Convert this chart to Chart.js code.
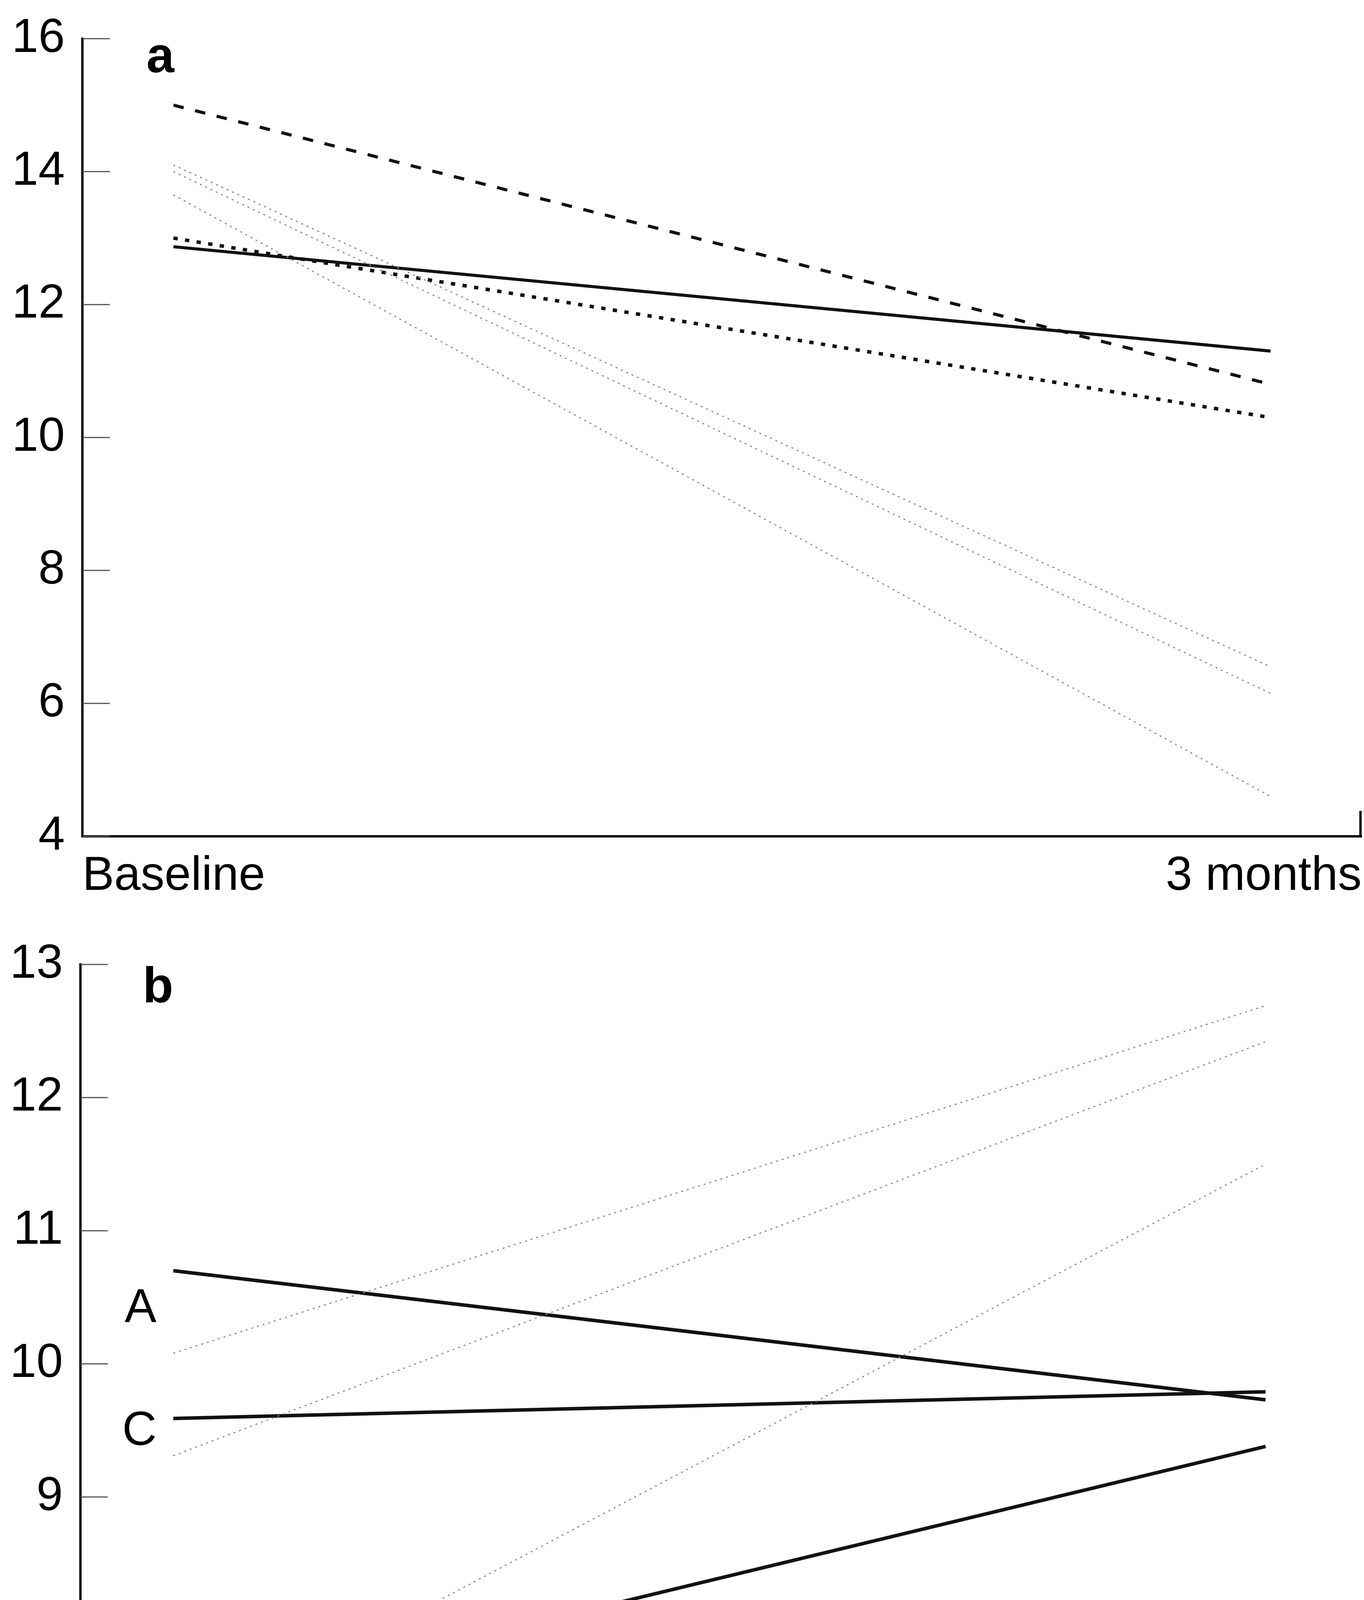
<!DOCTYPE html>
<html><head><meta charset="utf-8">
<script src="https://cdn.jsdelivr.net/npm/chart.js@4.4.1/dist/chart.umd.min.js"></script>
<style>
html,body{margin:0;padding:0;background:#fff;width:3493px;height:4681px;overflow:hidden;}
#wa{position:absolute;left:0;top:0;width:3493px;height:2330px;}
#wb{position:absolute;left:0;top:2330px;width:3493px;height:2351px;}
canvas{display:block;}
</style></head><body>
<div id="wa"><canvas id="ca" width="3493" height="2330"></canvas></div>
<div id="wb"><canvas id="cb" width="3493" height="2351"></canvas></div>
<script>
// ---- data ----
const timeLabels = ['Baseline', '3 months'];
const timePoints = [0, 1];

// Panel a
const aTickMin = 4, aTickMax = 16, aTickStep = 2;
const aDashed = [15.0, 10.8];
const aSolid  = [12.87, 11.3];
const aDotted = [13.0, 10.3];
const aFaint1 = [14.1, 6.55];
const aFaint2 = [14.0, 6.15];
const aFaint3 = [13.65, 4.6];

// Panel b
const bTickMin = 7, bTickMax = 13, bTickStep = 1;
const bLineA  = [10.7, 9.73];
const bLineB  = [7.4, 9.38];
const bLineC  = [9.59, 9.79];
const bFaint1 = [10.08, 12.69];
const bFaint2 = [9.31, 12.42];
const bFaint3 = [7.17, 11.5];
const bLineNames = ['A', 'B', 'C'];
const bNameAnchors = [[-0.03, 10.41], [-0.031, 7.38], [-0.031, 9.49]];

const FONT = '"Liberation Sans", Arial, Helvetica, sans-serif';

function pts(vals){ return vals.map((v,i)=>({x:timePoints[i], y:v})); }

const decor = {
  id:'decor',
  afterDraw(chart, args, o){
    const {ctx, chartArea:ca, scales:{x, y}} = chart;
    ctx.save();
    // inner tick marks
    ctx.strokeStyle = '#555'; ctx.lineWidth = 3;
    y.ticks.forEach(t=>{
      const py = y.getPixelForValue(t.value);
      ctx.beginPath(); ctx.moveTo(ca.left, py); ctx.lineTo(ca.left + 70, py); ctx.stroke();
    });
    // right-end tick on x axis
    ctx.strokeStyle = '#000'; ctx.lineWidth = 6;
    ctx.beginPath(); ctx.moveTo(ca.right - 3, ca.bottom); ctx.lineTo(ca.right - 3, ca.bottom - 65); ctx.stroke();
    // panel letter
    ctx.fillStyle = '#000';
    ctx.font = 'bold 128px ' + FONT;
    ctx.textAlign = 'center'; ctx.textBaseline = 'middle';
    ctx.fillText(o.letter, x.getPixelForValue(o.lx), y.getPixelForValue(o.ly));
    // line names
    if (o.names) {
      ctx.font = '122px ' + FONT;
      o.names.forEach((n, i)=>{
        const a = o.anchors[i];
        ctx.fillText(n, x.getPixelForValue(a[0]), y.getPixelForValue(a[1]));
      });
    }
    ctx.restore();
  }
};

function makeOptions(cfg){
  return {
    responsive:false, animation:false, devicePixelRatio:1,
    layout:{padding:{top:cfg.padTop, right:6, left:0, bottom:0}},
    plugins:{legend:{display:false}, tooltip:{enabled:false},
      decor:{letter:cfg.letter, lx:cfg.lx, ly:cfg.ly, names:cfg.names, anchors:cfg.anchors}},
    elements:{point:{radius:0}, line:{tension:0, borderCapStyle:'butt'}},
    scales:{
      x:{type:'linear', min:cfg.xmin, max:cfg.xmax,
        afterBuildTicks:s=>{ s.ticks = [{value:s.min},{value:s.max}]; },
        afterFit:s=>{ s.height = cfg.xh; },
        grid:{display:false, drawTicks:true, tickLength:30},
        border:{display:true, color:'#000', width:6},
        ticks:{align:'inner', maxRotation:0, autoSkip:false, padding:0, color:'#000',
          font:{family:FONT, size:122},
          callback:(v,i)=>timeLabels[i]}
      },
      y:{type:'linear', min:cfg.ymin, max:cfg.ymax,
        afterFit:s=>{ s.width = cfg.yw; },
        grid:{display:false, drawTicks:true, tickLength:45},
        border:{display:true, color:'#000', width:6},
        ticks:{stepSize:cfg.step, padding:0, color:'#000', font:{family:FONT, size:122}}
      }
    }
  };
}

const faint = {borderColor:'#8c8c8c', borderWidth:3, borderDash:[5,10]};

new Chart(document.getElementById('ca'), {
  type:'line',
  data:{datasets:[
    Object.assign({label:'f1', data:pts(aFaint1)}, faint),
    Object.assign({label:'f2', data:pts(aFaint2)}, faint),
    Object.assign({label:'f3', data:pts(aFaint3)}, faint),
    {label:'dashed', data:pts(aDashed), borderColor:'#111', borderWidth:8, borderDash:[27,30]},
    {label:'dotted', data:pts(aDotted), borderColor:'#111', borderWidth:9, borderDash:[11,19]},
    {label:'solid', data:pts(aSolid), borderColor:'#111', borderWidth:8}
  ]},
  options:makeOptions({padTop:99, xh:189, yw:211, xmin:-0.083, xmax:1.083,
    ymin:aTickMin, ymax:aTickMax, step:aTickStep, letter:'a', lx:-0.012, ly:15.7}),
  plugins:[decor]
});

new Chart(document.getElementById('cb'), {
  type:'line',
  data:{datasets:[
    Object.assign({label:'f1', data:pts(bFaint1)}, faint),
    Object.assign({label:'f2', data:pts(bFaint2)}, faint),
    Object.assign({label:'f3', data:pts(bFaint3)}, faint),
    {label:bLineNames[0], data:pts(bLineA), borderColor:'#111', borderWidth:9},
    {label:bLineNames[1], data:pts(bLineB), borderColor:'#111', borderWidth:9},
    {label:bLineNames[2], data:pts(bLineC), borderColor:'#111', borderWidth:9}
  ]},
  options:makeOptions({padTop:139, xh:167, yw:206, xmin:-0.085, xmax:1.088,
    ymin:bTickMin, ymax:bTickMax, step:bTickStep, letter:'b', lx:-0.014, ly:12.82,
    names:bLineNames, anchors:bNameAnchors}),
  plugins:[decor]
});
</script>
</body></html>
